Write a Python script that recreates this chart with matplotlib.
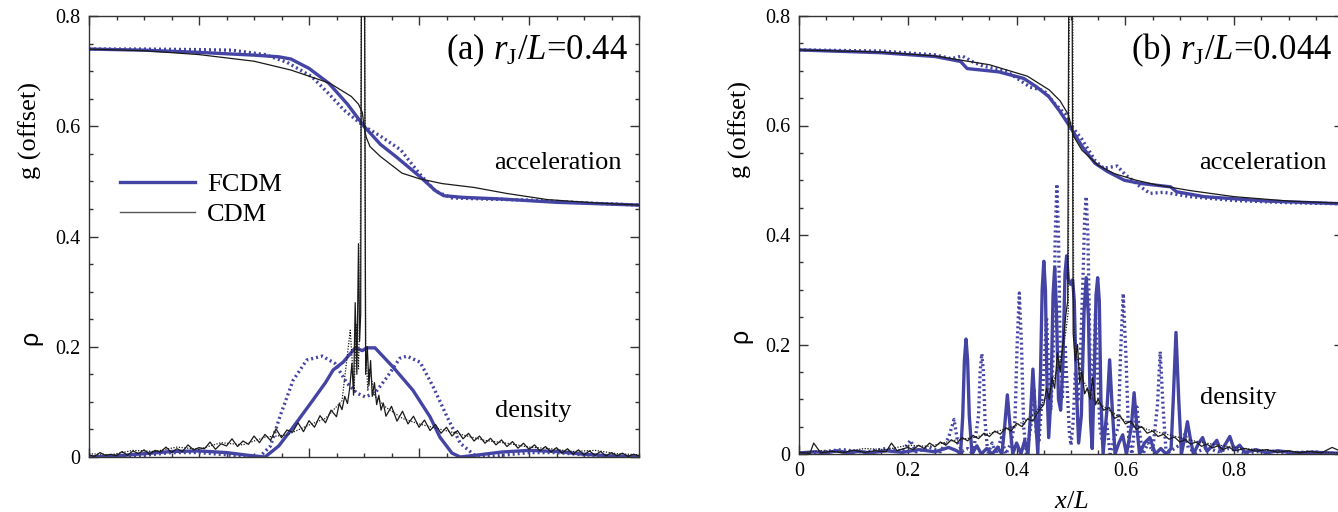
import numpy as np
import matplotlib
matplotlib.use('Agg')
import matplotlib.pyplot as plt
from matplotlib.ticker import MultipleLocator, FuncFormatter
from matplotlib.lines import Line2D
import matplotlib.transforms as mtransforms

plt.rcParams['font.family'] = ['Liberation Serif', 'DejaVu Serif']
plt.rcParams['mathtext.fontset'] = 'custom'
plt.rcParams['mathtext.rm'] = 'Liberation Serif'
plt.rcParams['mathtext.it'] = 'Liberation Serif:italic'

BLUE = '#4444a4'
BLACK = '#1a1a1a'

# ---------------- panel (a): r_J/L = 0.44 ----------------
a_acc_fcdm_x = [0.0, 0.10, 0.20, 0.30, 0.345, 0.367, 0.40, 0.436, 0.47, 0.50, 0.53, 0.558, 0.60, 0.63, 0.645, 0.68, 0.75, 0.85, 1.0]
a_acc_fcdm_y = [0.740, 0.738, 0.734, 0.729, 0.726, 0.722, 0.705, 0.678, 0.640, 0.600, 0.567, 0.545, 0.510, 0.483, 0.474, 0.471, 0.468, 0.462, 0.457]

a_acc_fcdm_dot_x = [0.0, 0.10, 0.20, 0.26, 0.32, 0.36, 0.405, 0.435, 0.464, 0.50, 0.53, 0.567, 0.60, 0.63, 0.66, 0.72, 0.80, 0.90, 1.0]
a_acc_fcdm_dot_y = [0.740, 0.740, 0.739, 0.738, 0.730, 0.716, 0.690, 0.660, 0.629, 0.600, 0.582, 0.557, 0.515, 0.482, 0.470, 0.468, 0.466, 0.461, 0.457]

a_acc_cdm_x = [0.0, 0.10, 0.20, 0.30, 0.367, 0.438, 0.477, 0.490, 0.497, 0.500, 0.504, 0.511, 0.53, 0.569, 0.60, 0.642, 0.70, 0.76, 0.833, 0.92, 1.0]
a_acc_cdm_y = [0.740, 0.737, 0.730, 0.718, 0.702, 0.678, 0.654, 0.640, 0.625, 0.600, 0.580, 0.563, 0.545, 0.515, 0.505, 0.496, 0.489, 0.478, 0.467, 0.461, 0.457]

a_rho_fcdm_x = [0.0, 0.05, 0.10, 0.15, 0.20, 0.25, 0.29, 0.32, 0.345, 0.371, 0.407, 0.43, 0.444, 0.462, 0.484, 0.497,
                0.505, 0.52, 0.553, 0.589, 0.62, 0.638, 0.66, 0.675, 0.71, 0.75, 0.80, 0.85, 0.90, 0.95, 1.0]
a_rho_fcdm_y = [0.0, 0.002, 0.006, 0.010, 0.011, 0.008, 0.003, 0.0, 0.020, 0.054, 0.103, 0.135, 0.158, 0.172, 0.198, 0.193,
                0.198, 0.198, 0.163, 0.121, 0.073, 0.036, 0.007, 0.0, 0.004, 0.009, 0.012, 0.010, 0.005, 0.002, 0.0]

a_rho_fcdm_dot_x = [0.0, 0.05, 0.10, 0.15, 0.20, 0.25, 0.28, 0.31, 0.33, 0.347, 0.371, 0.396, 0.424, 0.447, 0.469, 0.487,
                    0.502, 0.52, 0.542, 0.565, 0.578, 0.602, 0.626, 0.651, 0.675, 0.70, 0.72, 0.75, 0.80, 0.85, 0.90, 0.95, 1.0]
a_rho_fcdm_dot_y = [0.0, 0.0, 0.003, 0.008, 0.008, 0.004, 0.0, 0.0, 0.020, 0.073, 0.139, 0.176, 0.183, 0.170, 0.134, 0.116,
                    0.109, 0.116, 0.145, 0.179, 0.183, 0.172, 0.127, 0.073, 0.025, 0.004, 0.0, 0.003, 0.008, 0.008, 0.004, 0.001, 0.0]

a_rho_cdm_x = [0.00, 0.01, 0.02, 0.03, 0.04, 0.05, 0.06, 0.07, 0.08, 0.09, 0.10, 0.11, 0.12, 0.13, 0.14, 0.15,
               0.16, 0.17, 0.18, 0.19, 0.20, 0.21, 0.22, 0.23, 0.24, 0.25, 0.26, 0.27, 0.28, 0.29, 0.30, 0.31,
               0.32, 0.33, 0.34, 0.35, 0.36, 0.37, 0.38, 0.39, 0.40, 0.41, 0.42, 0.43, 0.44, 0.45,
               0.455, 0.46, 0.465, 0.47, 0.474, 0.478, 0.481, 0.484, 0.487, 0.490, 0.492, 0.494, 0.496, 0.500,
               0.503, 0.506, 0.509, 0.512, 0.515, 0.519, 0.523, 0.527, 0.531, 0.535,
               0.54, 0.55, 0.56, 0.57, 0.58, 0.59, 0.60, 0.61, 0.62, 0.63, 0.64, 0.65, 0.66, 0.67, 0.68, 0.69,
               0.70, 0.71, 0.72, 0.73, 0.74, 0.75, 0.76, 0.77, 0.78, 0.79, 0.80, 0.81, 0.82, 0.83, 0.84, 0.85,
               0.86, 0.87, 0.88, 0.89, 0.90, 0.91, 0.92, 0.93, 0.94, 0.95, 0.96, 0.97, 0.98, 0.99, 1.00]
a_rho_cdm_y = [0.004, 0.001, 0.008, 0.003, 0.005, 0.002, 0.010, 0.003, 0.011, 0.006, 0.013, 0.005, 0.012, 0.009, 0.018, 0.008,
               0.015, 0.010, 0.022, 0.013, 0.017, 0.015, 0.027, 0.014, 0.024, 0.020, 0.033, 0.019, 0.029, 0.023, 0.038, 0.026,
               0.041, 0.030, 0.051, 0.035, 0.049, 0.045, 0.062, 0.046, 0.066, 0.054, 0.075, 0.062, 0.085, 0.073,
               0.097, 0.086, 0.110, 0.097, 0.125, 0.170, 0.112, 0.280, 0.150, 0.387, 0.210, 0.260, 1.2, 1.2,
               0.150, 0.200, 0.130, 0.175, 0.110, 0.135, 0.095, 0.112, 0.085, 0.098,
               0.074, 0.092, 0.065, 0.083, 0.060, 0.074, 0.054, 0.067, 0.048, 0.059, 0.043, 0.054, 0.038, 0.048, 0.033, 0.043,
               0.029, 0.038, 0.025, 0.034, 0.022, 0.031, 0.019, 0.028, 0.016, 0.025, 0.014, 0.022, 0.011, 0.019, 0.009, 0.017,
               0.007, 0.015, 0.005, 0.013, 0.004, 0.011, 0.003, 0.010, 0.002, 0.008, 0.002, 0.007, 0.001, 0.005, 0.002]

a_rho_cdm_dot_x = [0.0, 0.04, 0.08, 0.12, 0.16, 0.20, 0.24, 0.28, 0.32, 0.36, 0.40, 0.43, 0.46, 0.475, 0.482, 0.486, 0.490,
                   0.493, 0.497, 0.500, 0.503, 0.507, 0.51, 0.52, 0.54, 0.57, 0.60, 0.64, 0.68, 0.72, 0.76, 0.80, 0.84,
                   0.88, 0.92, 0.96, 1.0]
a_rho_cdm_dot_y = [0.006, 0.004, 0.012, 0.010, 0.018, 0.014, 0.026, 0.022, 0.036, 0.040, 0.058, 0.070, 0.102, 0.230, 0.120,
                   0.240, 0.160, 0.300, 1.2, 1.2, 0.200, 0.120, 0.160, 0.110, 0.090, 0.070, 0.060, 0.050, 0.040, 0.030,
                   0.025, 0.018, 0.015, 0.010, 0.012, 0.006, 0.004]

# ---------------- panel (b): r_J/L = 0.044 ----------------
b_acc_fcdm_x = [0.0, 0.15, 0.25, 0.297, 0.309, 0.367, 0.413, 0.436, 0.459, 0.478, 0.498, 0.521, 0.544, 0.567, 0.598,
                0.629, 0.683, 0.694, 0.745, 0.86, 1.0]
b_acc_fcdm_y = [0.738, 0.733, 0.726, 0.717, 0.704, 0.698, 0.686, 0.671, 0.653, 0.628, 0.598, 0.561, 0.531, 0.516, 0.500,
                0.494, 0.488, 0.479, 0.470, 0.462, 0.457]

b_acc_fcdm_dot_x = [0.0, 0.15, 0.25, 0.28, 0.30, 0.32, 0.34, 0.38, 0.41, 0.425, 0.45, 0.47, 0.49, 0.5, 0.52, 0.545,
                    0.56, 0.585, 0.60, 0.625, 0.645, 0.67, 0.72, 0.8, 0.9, 1.0]
b_acc_fcdm_dot_y = [0.738, 0.736, 0.729, 0.722, 0.727, 0.716, 0.708, 0.700, 0.680, 0.670, 0.664, 0.640, 0.620, 0.600,
                    0.575, 0.535, 0.522, 0.526, 0.510, 0.490, 0.476, 0.478, 0.470, 0.463, 0.459, 0.457]

b_acc_cdm_x = [0.0, 0.15, 0.25, 0.35, 0.42, 0.46, 0.48, 0.495, 0.5, 0.505, 0.52, 0.55, 0.58, 0.62, 0.66, 0.72, 0.8, 0.9, 1.0]
b_acc_cdm_y = [0.738, 0.734, 0.727, 0.711, 0.690, 0.665, 0.645, 0.620, 0.600, 0.580, 0.555, 0.527, 0.512, 0.500, 0.491,
               0.481, 0.470, 0.462, 0.458]

b_rho_fcdm_x = [0.0, 0.03, 0.05, 0.07, 0.09, 0.11, 0.13, 0.16, 0.19, 0.22, 0.25, 0.275, 0.29, 0.297,
                0.301, 0.304, 0.307, 0.310, 0.313, 0.318,
                0.327, 0.335, 0.345, 0.355, 0.365, 0.373,
                0.378, 0.383, 0.388, 0.393,
                0.400, 0.408, 0.415, 0.421,
                0.426, 0.430, 0.434, 0.439,
                0.444, 0.447, 0.450, 0.453, 0.456, 0.459,
                0.463, 0.467, 0.470, 0.473, 0.477, 0.481,
                0.485, 0.489, 0.492, 0.495, 0.499, 0.503, 0.506, 0.510, 0.514,
                0.519, 0.524, 0.528, 0.532, 0.536, 0.539,
                0.543, 0.546, 0.549, 0.552, 0.555, 0.559,
                0.566, 0.571, 0.576, 0.581,
                0.588, 0.595, 0.602,
                0.611, 0.616, 0.621, 0.626,
                0.635, 0.645, 0.655, 0.665, 0.675, 0.684,
                0.688, 0.693, 0.698, 0.703,
                0.709, 0.714, 0.719, 0.725,
                0.735, 0.742, 0.75, 0.76, 0.768, 0.776, 0.785, 0.792, 0.80, 0.81, 0.82, 0.84, 0.86, 0.88, 0.91, 0.95, 1.0]
b_rho_fcdm_y = [0.002, 0.004, 0.002, 0.006, 0.002, 0.005, 0.002, 0.006, 0.003, 0.008, 0.004, 0.012, 0.006, 0.0,
                0.07, 0.17, 0.210, 0.17, 0.07, 0.0,
                0.015, 0.0, 0.010, 0.0, 0.012, 0.0,
                0.05, 0.108, 0.05, 0.0,
                0.020, 0.0, 0.025, 0.0,
                0.08, 0.155, 0.08, 0.0,
                0.15, 0.30, 0.352, 0.30, 0.12, 0.03,
                0.10, 0.29, 0.340, 0.27, 0.10, 0.08,
                0.16, 0.33, 0.362, 0.32, 0.310, 0.318, 0.28, 0.12, 0.02,
                0.07, 0.26, 0.322, 0.25, 0.06, 0.01,
                0.15, 0.29, 0.322, 0.28, 0.10, 0.0,
                0.08, 0.172, 0.08, 0.0,
                0.020, 0.035, 0.0,
                0.05, 0.112, 0.05, 0.0,
                0.020, 0.030, 0.0, 0.010, 0.0, 0.010,
                0.10, 0.222, 0.10, 0.0,
                0.03, 0.059, 0.03, 0.0,
                0.020, 0.030, 0.005, 0.015, 0.025, 0.005, 0.020, 0.032, 0.008, 0.016, 0.003, 0.008, 0.002, 0.006, 0.002, 0.003, 0.001]

b_rho_fcdm_dot_x = [0.0, 0.04, 0.08, 0.12, 0.16, 0.19, 0.205, 0.215, 0.24, 0.26, 0.275, 0.285, 0.292, 0.30, 0.31, 0.32,
                    0.330, 0.333, 0.336, 0.339, 0.342, 0.347,
                    0.355, 0.362, 0.372, 0.38, 0.39, 0.397,
                    0.401, 0.405, 0.409, 0.413, 0.418,
                    0.426, 0.432, 0.436, 0.441,
                    0.450, 0.455, 0.459, 0.463,
                    0.468, 0.471, 0.474, 0.477, 0.480, 0.484, 0.489, 0.493,
                    0.497, 0.500, 0.504, 0.508, 0.513, 0.518,
                    0.522, 0.525, 0.528, 0.531, 0.535, 0.539,
                    0.542, 0.545, 0.549, 0.553, 0.558, 0.565, 0.572, 0.58, 0.587,
                    0.591, 0.596, 0.601, 0.606, 0.612,
                    0.617, 0.621, 0.626, 0.632, 0.642, 0.65,
                    0.659, 0.664, 0.669, 0.675, 0.69,
                    0.705, 0.71, 0.716, 0.73, 0.75, 0.77, 0.79, 0.82, 0.86, 0.9, 0.94, 1.0]
b_rho_fcdm_dot_y = [0.0, 0.004, 0.008, 0.003, 0.010, 0.005, 0.025, 0.004, 0.012, 0.004, 0.030, 0.063, 0.020, 0.005, 0.010, 0.0,
                    0.07, 0.15, 0.183, 0.15, 0.06, 0.0,
                    0.020, 0.0, 0.030, 0.0, 0.020, 0.06,
                    0.20, 0.294, 0.20, 0.05, 0.0,
                    0.05, 0.12, 0.04, 0.02,
                    0.15, 0.25, 0.15, 0.08,
                    0.20, 0.40, 0.493, 0.40, 0.20, 0.10, 0.20, 0.12,
                    0.04, 0.016, 0.06, 0.15, 0.10, 0.20,
                    0.32, 0.43, 0.470, 0.40, 0.18, 0.09,
                    0.17, 0.255, 0.15, 0.05, 0.02, 0.06, 0.0, 0.03, 0.05,
                    0.18, 0.293, 0.18, 0.03, 0.0,
                    0.05, 0.086, 0.04, 0.0, 0.02, 0.005,
                    0.09, 0.187, 0.09, 0.0, 0.010,
                    0.020, 0.038, 0.010, 0.003, 0.012, 0.004, 0.010, 0.002, 0.006, 0.002, 0.004, 0.0]

b_rho_cdm_x = [0.00, 0.02, 0.027, 0.04, 0.06, 0.08, 0.10, 0.12, 0.14, 0.16, 0.17, 0.18, 0.20, 0.21, 0.22, 0.23, 0.24,
               0.25, 0.26, 0.27, 0.28, 0.29, 0.30, 0.31, 0.32, 0.33, 0.34, 0.35, 0.36, 0.37, 0.38, 0.39, 0.40, 0.41,
               0.42, 0.43, 0.44, 0.45, 0.455, 0.46, 0.465, 0.47, 0.475, 0.48, 0.485, 0.49, 0.494, 0.497, 0.501,
               0.504, 0.508, 0.512, 0.516, 0.52, 0.525, 0.53, 0.535, 0.54, 0.545, 0.55, 0.56, 0.57, 0.58, 0.59,
               0.60, 0.61, 0.62, 0.63, 0.64, 0.65, 0.66, 0.67, 0.68, 0.69, 0.70, 0.71, 0.72, 0.73, 0.74, 0.75,
               0.76, 0.77, 0.78, 0.79, 0.80, 0.82, 0.84, 0.86, 0.88, 0.90, 0.92, 0.94, 0.96, 0.98, 1.0]
b_rho_cdm_y = [0.003, 0.001, 0.020, 0.002, 0.005, 0.002, 0.007, 0.003, 0.006, 0.004, 0.020, 0.006, 0.012, 0.008, 0.016,
               0.010, 0.020, 0.013, 0.022, 0.016, 0.026, 0.020, 0.030, 0.024, 0.034, 0.028, 0.038, 0.032, 0.042, 0.036,
               0.048, 0.042, 0.056, 0.050, 0.064, 0.060, 0.078, 0.090, 0.120, 0.100, 0.140, 0.120, 0.185, 0.150,
               0.200, 0.250, 0.280, 1.2, 1.2,
               0.220, 0.170, 0.200, 0.130, 0.150, 0.110, 0.120, 0.100, 0.140, 0.090, 0.100, 0.080, 0.085, 0.065, 0.070,
               0.055, 0.060, 0.045, 0.050, 0.038, 0.042, 0.032, 0.036, 0.027, 0.031, 0.022, 0.026, 0.018, 0.022, 0.014,
               0.018, 0.011, 0.015, 0.008, 0.013, 0.006, 0.010, 0.005, 0.008, 0.003, 0.006, 0.002, 0.005, 0.002, 0.012, 0.003]

b_rho_cdm_dot_x = [0.0, 0.04, 0.08, 0.12, 0.16, 0.20, 0.24, 0.28, 0.32, 0.36, 0.40, 0.43, 0.46, 0.48, 0.49, 0.495, 0.498,
                   0.502, 0.505, 0.51, 0.52, 0.54, 0.57, 0.60, 0.64, 0.68, 0.72, 0.76, 0.80, 0.84, 0.88, 0.92, 0.96, 1.0]
b_rho_cdm_dot_y = [0.002, 0.006, 0.004, 0.010, 0.008, 0.016, 0.014, 0.024, 0.030, 0.040, 0.052, 0.070, 0.110, 0.170, 0.220,
                   0.260, 1.2, 1.2, 0.240, 0.180, 0.140, 0.100, 0.080, 0.060, 0.045, 0.035, 0.025, 0.018, 0.012, 0.008,
                   0.006, 0.004, 0.003, 0.002]

y_ticks = [0, 0.2, 0.4, 0.6, 0.8]
x_ticks = [0, 0.2, 0.4, 0.6, 0.8]

fig = plt.figure(figsize=(13.38, 5.12), dpi=100)
fig.patch.set_facecolor('white')
W, H = 1338.0, 512.0
ax1 = fig.add_axes([89 / W, (H - 457) / H, 550 / W, 441 / H])
ax2 = fig.add_axes([799 / W, (H - 454) / H, 544 / W, 438 / H])


def fmt(v, pos):
    if abs(v) < 1e-9:
        return '0'
    return f'{v:.1f}'


def style(ax, show_x):
    ax.set_xlim(0, 1)
    ax.set_ylim(0, 0.8)
    ax.set_xticks(x_ticks)
    ax.set_yticks(y_ticks)
    ax.xaxis.set_minor_locator(MultipleLocator(0.05))
    ax.yaxis.set_minor_locator(MultipleLocator(0.05))
    ax.yaxis.set_major_formatter(FuncFormatter(fmt))
    ax.xaxis.set_major_formatter(FuncFormatter(fmt))
    ax.tick_params(which='both', direction='in', top=True, right=True, width=1.0, color='#333333')
    ax.tick_params(which='major', length=6.5, labelsize=14.5, pad=6)
    ax.tick_params(which='minor', length=3.0)
    if not show_x:
        ax.tick_params(axis='x', labelbottom=False)
    for s in ax.spines.values():
        s.set_linewidth(1.0)
        s.set_color('#333333')
    trans = mtransforms.blended_transform_factory(ax.transAxes, ax.transData)
    ax.text(-0.107, 0.593, 'g (offset)', transform=trans, rotation=90, ha='center', va='center', fontsize=19)
    ax.text(-0.107, 0.216, 'ρ', transform=trans, rotation=90, ha='center', va='center', fontsize=18,
            family='Liberation Sans')


def draw(ax, d):
    ax.plot(d['acc_cdm'][0], d['acc_cdm'][1], color=BLACK, lw=0.9, zorder=3)
    ax.plot(d['rho_cdm_dot'][0], d['rho_cdm_dot'][1], color=BLACK, lw=0.9, ls=(0, (1, 1.2)), zorder=3)
    ax.plot(d['rho_cdm'][0], d['rho_cdm'][1], color=BLACK, lw=0.9, zorder=3)
    ax.plot(d['acc_dot'][0], d['acc_dot'][1], color=BLUE, lw=2.4, ls=(0, (0.6, 0.9)), zorder=2)
    ax.plot(d['rho_dot'][0], d['rho_dot'][1], color=BLUE, lw=2.4, ls=(0, (0.6, 0.9)), zorder=2)
    ax.plot(d['acc'][0], d['acc'][1], color=BLUE, lw=2.4, zorder=2)
    ax.plot(d['rho'][0], d['rho'][1], color=BLUE, lw=2.4, zorder=2)


style(ax1, False)
style(ax2, True)

draw(ax1, dict(acc=(a_acc_fcdm_x, a_acc_fcdm_y), acc_dot=(a_acc_fcdm_dot_x, a_acc_fcdm_dot_y),
               acc_cdm=(a_acc_cdm_x, a_acc_cdm_y), rho=(a_rho_fcdm_x, a_rho_fcdm_y),
               rho_dot=(a_rho_fcdm_dot_x, a_rho_fcdm_dot_y), rho_cdm=(a_rho_cdm_x, a_rho_cdm_y),
               rho_cdm_dot=(a_rho_cdm_dot_x, a_rho_cdm_dot_y)))
draw(ax2, dict(acc=(b_acc_fcdm_x, b_acc_fcdm_y), acc_dot=(b_acc_fcdm_dot_x, b_acc_fcdm_dot_y),
               acc_cdm=(b_acc_cdm_x, b_acc_cdm_y), rho=(b_rho_fcdm_x, b_rho_fcdm_y),
               rho_dot=(b_rho_fcdm_dot_x, b_rho_fcdm_dot_y), rho_cdm=(b_rho_cdm_x, b_rho_cdm_y),
               rho_cdm_dot=(b_rho_cdm_dot_x, b_rho_cdm_dot_y)))

ax1.text(0.98, 0.738, r'(a) $r_{\rm J}/L$=0.44', ha='right', va='center', fontsize=25)
ax2.text(0.98, 0.738, r'(b) $r_{\rm J}/L$=0.044', ha='right', va='center', fontsize=25)

ax1.text(0.969, 0.533, 'acceleration', ha='right', va='center', fontsize=19)
ax2.text(0.969, 0.531, 'acceleration', ha='right', va='center', fontsize=19)
ax1.text(0.738, 0.083, 'density', ha='left', va='center', fontsize=19)
ax2.text(0.737, 0.102, 'density', ha='left', va='center', fontsize=19)

ax2.text(0.5, -0.11, r'$x/L$', transform=ax2.transAxes, ha='center', va='center', fontsize=19)

handles = [Line2D([], [], color=BLUE, lw=2.4), Line2D([], [], color='#555555', lw=1.0)]
ax1.legend(handles, ['FCDM', 'CDM'], loc='upper left', bbox_to_anchor=(0.056, 0.645), frameon=False,
           fontsize=19, handlelength=2.85, handletextpad=0.45, labelspacing=0.24, borderpad=0, borderaxespad=0)

fig.savefig('out.png', dpi=100, facecolor='white')
